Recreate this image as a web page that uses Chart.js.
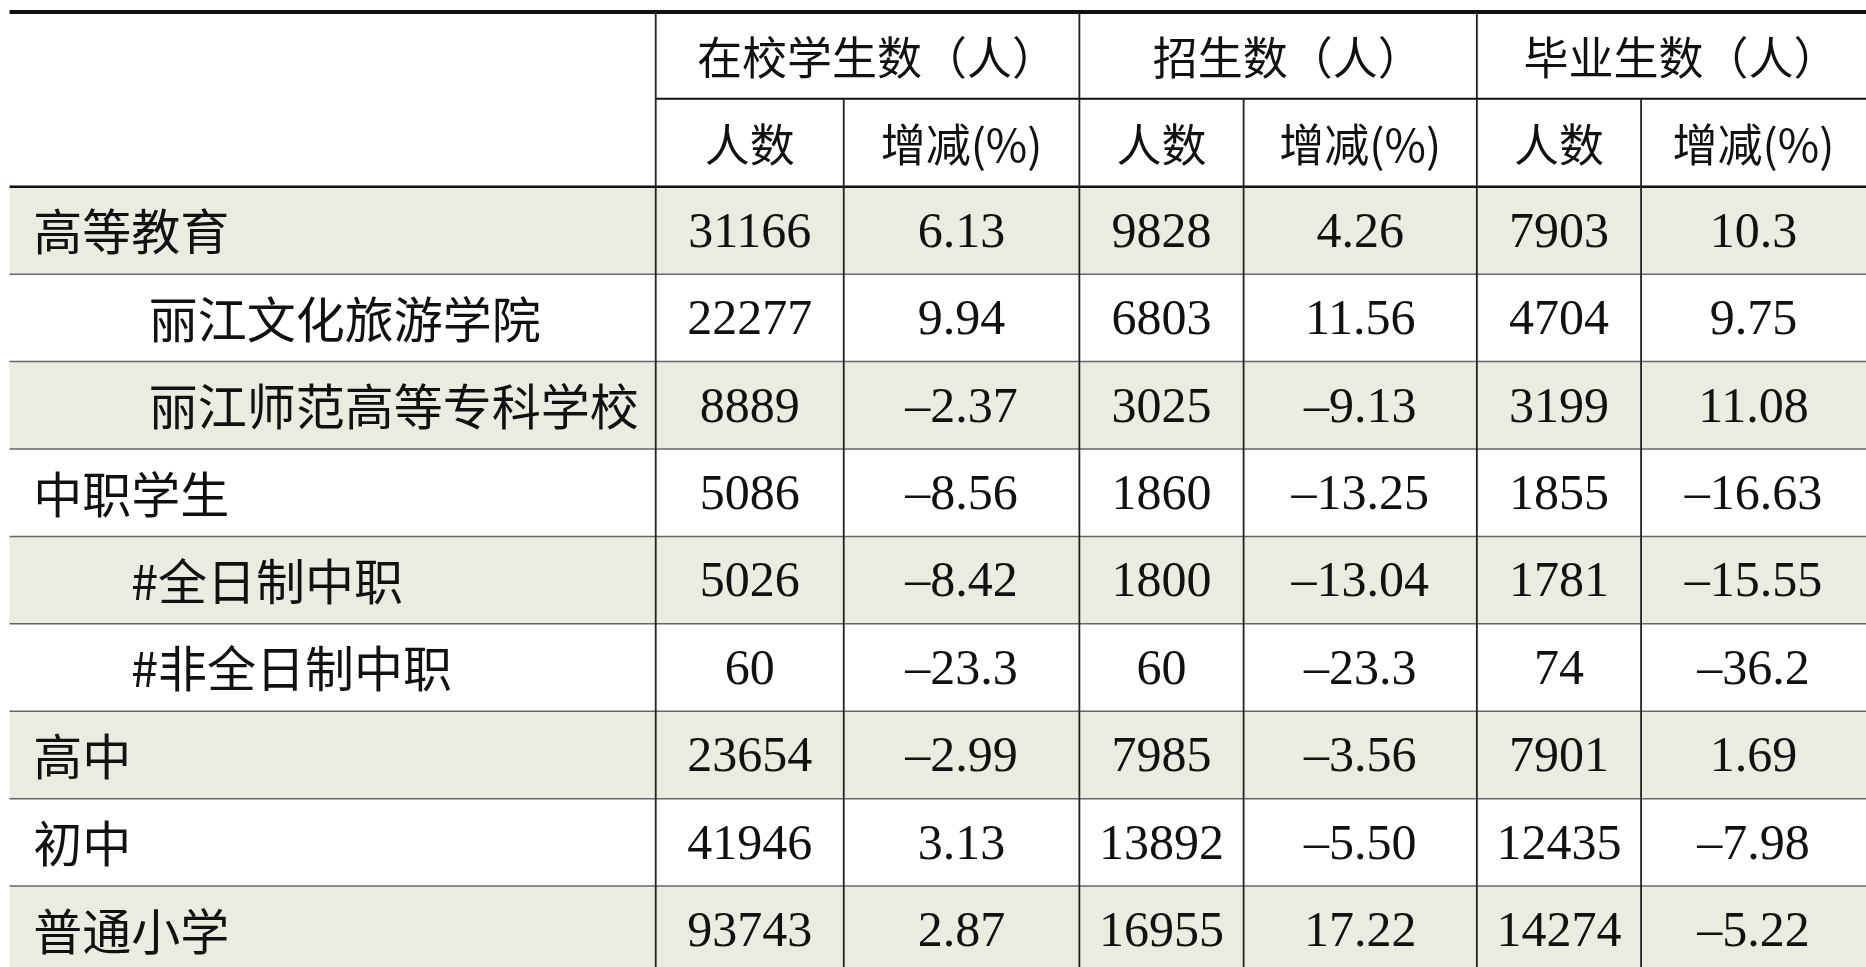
<!DOCTYPE html>
<html><head><meta charset="utf-8">
<script src="https://cdn.jsdelivr.net/npm/chart.js@4"></script>
<style>html,body{margin:0;padding:0;background:#fff}#w{width:1866px;height:967px}</style>
</head><body><div id="w"><canvas id="c"></canvas></div>
<script>
const groupHeaders = ['在校学生数（人）', '招生数（人）', '毕业生数（人）'];
const subHeaders = ['人数', '增减(%)', '人数', '增减(%)', '人数', '增减(%)'];
const rowLabels = ['高等教育', '丽江文化旅游学院', '丽江师范高等专科学校', '中职学生', '#全日制中职', '#非全日制中职', '高中', '初中', '普通小学'];
const rowIndent = [0, 1, 1, 0, 2, 2, 0, 0, 0];
const enrolled = ['31166', '22277', '8889', '5086', '5026', '60', '23654', '41946', '93743'];
const enrolledChg = ['6.13', '9.94', '–2.37', '–8.56', '–8.42', '–23.3', '–2.99', '3.13', '2.87'];
const admitted = ['9828', '6803', '3025', '1860', '1800', '60', '7985', '13892', '16955'];
const admittedChg = ['4.26', '11.56', '–9.13', '–13.25', '–13.04', '–23.3', '–3.56', '–5.50', '17.22'];
const graduates = ['7903', '4704', '3199', '1855', '1781', '74', '7901', '12435', '14274'];
const graduatesChg = ['10.3', '9.75', '11.08', '–16.63', '–15.55', '–36.2', '1.69', '–7.98', '–5.22'];
const shaded = [true, false, true, false, true, false, true, false, true];

const colEdges = [0, 551, 709, 907, 1045, 1241, 1379, 1568];
const rowTop = 157, rowH = 73.5, headerMid = 83, topY = 10;
const numCols = [enrolled, enrolledChg, admitted, admittedChg, graduates, graduatesChg];

const tablePlugin = {
  id: 'table',
  beforeDatasetsDraw(chart) {
    const ctx = chart.ctx, X = chart.scales.x, Y = chart.scales.y;
    const px = v => X.getPixelForValue(v), py = v => Y.getPixelForValue(v);
    const k = px(1) - px(0);
    ctx.save();
    ctx.fillStyle = '#e9ecdf';
    rowLabels.forEach((_, i) => {
      if (!shaded[i]) return;
      const y0 = py(rowTop + i * rowH), y1 = py(rowTop + (i + 1) * rowH);
      ctx.fillRect(px(8), y0, px(1568) - px(8), y1 - y0);
    });
    ctx.strokeStyle = '#666'; ctx.lineWidth = 1.5;
    for (let i = 1; i < rowLabels.length; i++) {
      const y = py(rowTop + i * rowH);
      ctx.beginPath(); ctx.moveTo(px(8), y); ctx.lineTo(px(1568), y); ctx.stroke();
    }
    ctx.strokeStyle = '#111'; ctx.lineWidth = 4;
    ctx.beginPath(); ctx.moveTo(px(8), py(topY)); ctx.lineTo(px(1568), py(topY)); ctx.stroke();
    ctx.lineWidth = 2.5;
    ctx.beginPath(); ctx.moveTo(px(8), py(rowTop)); ctx.lineTo(px(1568), py(rowTop)); ctx.stroke();
    ctx.lineWidth = 2;
    ctx.beginPath(); ctx.moveTo(px(551), py(headerMid)); ctx.lineTo(px(1568), py(headerMid)); ctx.stroke();
    for (let c = 1; c < 7; c++) {
      const x = px(colEdges[c]);
      const yStart = (c === 1 || c === 3 || c === 5) ? py(topY) : py(headerMid);
      ctx.lineWidth = 1.8; ctx.strokeStyle = '#222';
      ctx.beginPath(); ctx.moveTo(x, yStart); ctx.lineTo(x, py(813)); ctx.stroke();
    }
    const cjk = Math.round(41 * k) + 'px "Noto Sans CJK SC"';
    const cjkH = Math.round(38 * k) + 'px "Noto Sans CJK SC"';
    const serif = Math.round(42 * k) + 'px "Liberation Serif"';
    ctx.fillStyle = '#111'; ctx.textBaseline = 'middle';
    ctx.textAlign = 'center';
    ctx.font = cjkH;
    groupHeaders.forEach((t, g) => {
      ctx.fillText(t, (px(colEdges[1 + 2 * g]) + px(colEdges[3 + 2 * g])) / 2 + 8 * k, py((topY + headerMid) / 2 + 2));
    });
    subHeaders.forEach((t, c) => {
      ctx.fillText(t, (px(colEdges[1 + c]) + px(colEdges[2 + c])) / 2, py((headerMid + rowTop) / 2 + 2));
    });
    const indentX = [28, 125, 110];
    rowLabels.forEach((t, i) => {
      const yc = py(rowTop + (i + 0.5) * rowH + 1);
      ctx.textAlign = 'left'; ctx.font = cjk;
      ctx.fillText(t, px(indentX[rowIndent[i]]), yc);
      ctx.textAlign = 'center'; ctx.font = serif;
      numCols.forEach((col, c) => {
        ctx.fillText(col[i], (px(colEdges[1 + c]) + px(colEdges[2 + c])) / 2, yc + 2);
      });
    });
    ctx.restore();
  }
};

new Chart(document.getElementById('c'), {
  type: 'scatter',
  data: { datasets: [{ data: [], pointRadius: 0 }] },
  options: {
    responsive: true, maintainAspectRatio: false, animation: false,
    layout: { padding: 0 },
    plugins: { legend: { display: false }, tooltip: { enabled: false } },
    scales: {
      x: { type: 'linear', min: 0, max: 1568, display: false },
      y: { type: 'linear', min: 0, max: 813, reverse: true, display: false }
    }
  },
  plugins: [tablePlugin]
});
</script></body></html>
